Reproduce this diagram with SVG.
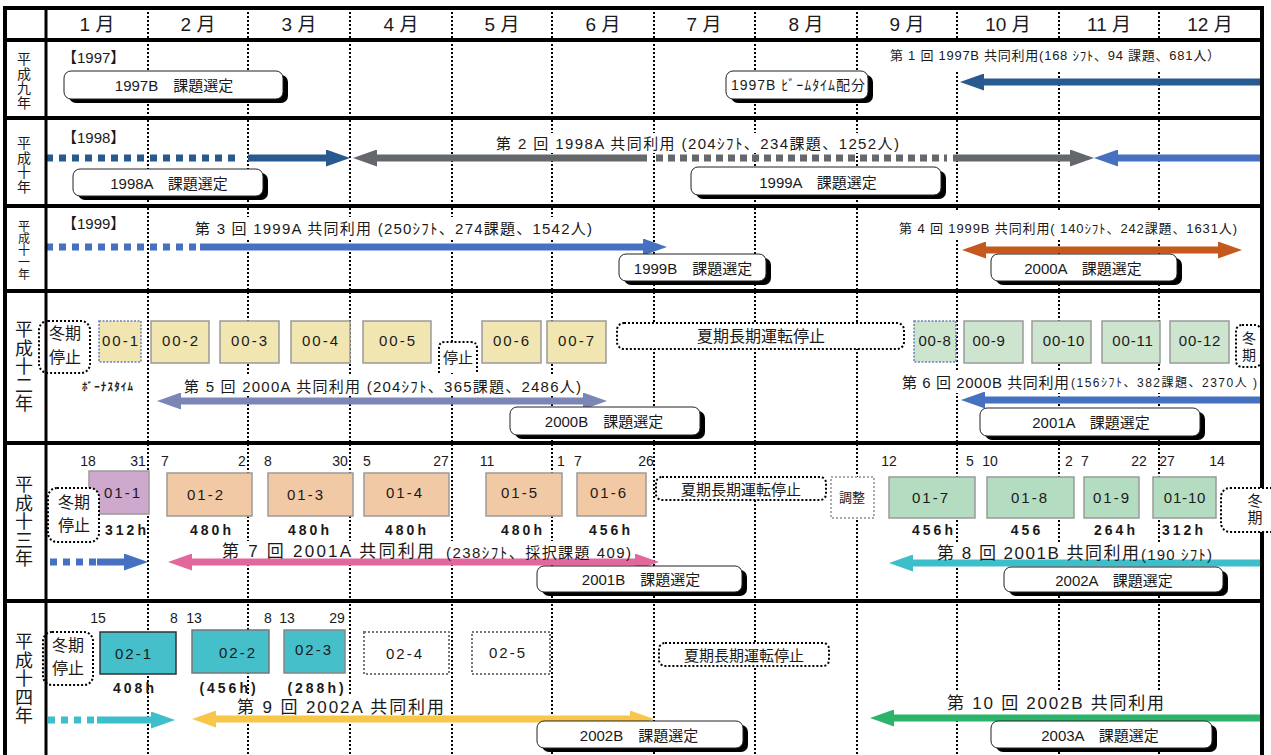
<svg xmlns="http://www.w3.org/2000/svg" width="1271" height="755" viewBox="0 0 1271 755">
<style>
text{font-family:"Liberation Sans","Noto Sans CJK JP",sans-serif;fill:#1a1a1a;dominant-baseline:central}
.mo{font-size:19px;text-anchor:middle}
.rl{text-anchor:middle}
.grid{fill:none;stroke:#000;stroke-width:2;stroke-dasharray:2 2}
.thick{fill:none;stroke:#000;stroke-width:4}
.shd{fill:#000}
.bx{fill:#fff;stroke:#222;stroke-width:1}
.bt{font-size:15px;text-anchor:middle}
.dz{fill:#fff;stroke:#000;stroke-width:2;stroke-dasharray:2 2}
.dg{fill:#fff;stroke:#777;stroke-width:2;stroke-dasharray:2 2}
.bg{fill:#fff}
.lb{font-size:15px}
.sm{font-size:13px}
.big{font-size:17px}
.dy{font-size:14px;text-anchor:middle}
.hr{font-size:14px;font-weight:bold;text-anchor:middle;letter-spacing:3px}
.cb{stroke:#9a9a9a;stroke-width:1.5}
.cdot{stroke:#6f7fb3;stroke-width:1.5;stroke-dasharray:2 1.5}
.cl{font-size:15px;text-anchor:middle;letter-spacing:2px}
.cl5{font-size:15px;text-anchor:middle;letter-spacing:0.8px}
.y0{fill:#F1E6B2}
.g0{fill:#CDE5CF}
.p1{fill:#CFA8CD}
.o1{fill:#F2C9A5}
.g1{fill:#B3DCC1}
.t2{fill:#45BFCA}
.ar{fill:none;stroke-width:7}
.ds{stroke-dasharray:7 6}
.wt{font-size:16px;text-anchor:middle}
</style>
<defs>
<marker id="mDB" markerUnits="userSpaceOnUse" markerWidth="24" markerHeight="17" viewBox="0 0 24 17" refX="2" refY="8.5" orient="auto-start-reverse"><path d="M0,0 L24,8.5 L0,17 z" fill="#285A8F"/></marker>
<marker id="mGY" markerUnits="userSpaceOnUse" markerWidth="24" markerHeight="17" viewBox="0 0 24 17" refX="2" refY="8.5" orient="auto-start-reverse"><path d="M0,0 L24,8.5 L0,17 z" fill="#64676B"/></marker>
<marker id="mBL" markerUnits="userSpaceOnUse" markerWidth="24" markerHeight="17" viewBox="0 0 24 17" refX="2" refY="8.5" orient="auto-start-reverse"><path d="M0,0 L24,8.5 L0,17 z" fill="#4571C0"/></marker>
<marker id="mOR" markerUnits="userSpaceOnUse" markerWidth="24" markerHeight="17" viewBox="0 0 24 17" refX="2" refY="8.5" orient="auto-start-reverse"><path d="M0,0 L24,8.5 L0,17 z" fill="#C4581E"/></marker>
<marker id="mSL" markerUnits="userSpaceOnUse" markerWidth="24" markerHeight="17" viewBox="0 0 24 17" refX="2" refY="8.5" orient="auto-start-reverse"><path d="M0,0 L24,8.5 L0,17 z" fill="#7B85B6"/></marker>
<marker id="mPK" markerUnits="userSpaceOnUse" markerWidth="24" markerHeight="17" viewBox="0 0 24 17" refX="2" refY="8.5" orient="auto-start-reverse"><path d="M0,0 L24,8.5 L0,17 z" fill="#E3679C"/></marker>
<marker id="mCY" markerUnits="userSpaceOnUse" markerWidth="24" markerHeight="17" viewBox="0 0 24 17" refX="2" refY="8.5" orient="auto-start-reverse"><path d="M0,0 L24,8.5 L0,17 z" fill="#3CBFCB"/></marker>
<marker id="mYE" markerUnits="userSpaceOnUse" markerWidth="24" markerHeight="17" viewBox="0 0 24 17" refX="2" refY="8.5" orient="auto-start-reverse"><path d="M0,0 L24,8.5 L0,17 z" fill="#F8C648"/></marker>
<marker id="mGR" markerUnits="userSpaceOnUse" markerWidth="24" markerHeight="17" viewBox="0 0 24 17" refX="2" refY="8.5" orient="auto-start-reverse"><path d="M0,0 L24,8.5 L0,17 z" fill="#2DB46B"/></marker>
</defs>
<rect x="0" y="0" width="1271" height="755" fill="#fff"/>

<g id="grid">
<path class="grid" d="M148 8V755M248 8V755M350 8V755M452 8V755M552 8V755M654 8V755M755 8V755M857 8V755M957 8V755M1059 8V755M1159 8V755"/>
</g>

<g id="header">
<text class="mo" x="97" y="24">1 月</text>
<text class="mo" x="198" y="24">2 月</text>
<text class="mo" x="299" y="24">3 月</text>
<text class="mo" x="401" y="24">4 月</text>
<text class="mo" x="502" y="24">5 月</text>
<text class="mo" x="603" y="24">6 月</text>
<text class="mo" x="704" y="24">7 月</text>
<text class="mo" x="806" y="24">8 月</text>
<text class="mo" x="907" y="24">9 月</text>
<text class="mo" x="1008" y="24">10 月</text>
<text class="mo" x="1109" y="24">11 月</text>
<text class="mo" x="1210" y="24">12 月</text>
</g>

<g id="row-labels">
<text class="rl" style="font-size:14px"><tspan x="24" y="59">平</tspan><tspan x="24" y="73.5">成</tspan><tspan x="24" y="88">九</tspan><tspan x="24" y="102.5">年</tspan></text>
<text class="rl" style="font-size:14px"><tspan x="24" y="143">平</tspan><tspan x="24" y="157.5">成</tspan><tspan x="24" y="172">十</tspan><tspan x="24" y="186.5">年</tspan></text>
<text class="rl" style="font-size:12px"><tspan x="24" y="227">平</tspan><tspan x="24" y="239">成</tspan><tspan x="24" y="251">十</tspan><tspan x="24" y="263">一</tspan><tspan x="24" y="275">年</tspan></text>
<text class="rl" style="font-size:18px"><tspan x="24" y="330">平</tspan><tspan x="24" y="348.5">成</tspan><tspan x="24" y="367">十</tspan><tspan x="24" y="385.5">二</tspan><tspan x="24" y="404">年</tspan></text>
<text class="rl" style="font-size:18px"><tspan x="24" y="485">平</tspan><tspan x="24" y="503.5">成</tspan><tspan x="24" y="522">十</tspan><tspan x="24" y="540.5">三</tspan><tspan x="24" y="559">年</tspan></text>
<text class="rl" style="font-size:18px"><tspan x="24" y="642">平</tspan><tspan x="24" y="660.5">成</tspan><tspan x="24" y="679">十</tspan><tspan x="24" y="697.5">四</tspan><tspan x="24" y="716">年</tspan></text>
</g>

<g id="label-backgrounds">
<rect class="bg" x="886" y="42" width="340" height="30"/>
<rect class="bg" x="490" y="133" width="414" height="20"/>
<rect class="bg" x="190" y="217" width="408" height="21"/>
<rect class="bg" x="894" y="210" width="348" height="30"/>
<rect class="bg" x="180" y="376" width="406" height="20"/>
<rect class="bg" x="897" y="371" width="362" height="22"/>
<rect class="bg" x="218" y="541" width="418" height="21"/>
<rect class="bg" x="933" y="542" width="283" height="21"/>
<rect class="bg" x="232" y="696" width="216" height="22"/>
<rect class="bg" x="943" y="691" width="225" height="24"/>
</g>

<g id="connectors">
<line class="ar" x1="1260" y1="82" x2="982" y2="82" stroke="#285A8F" marker-end="url(#mDB)"/>
<line class="ar ds" x1="46" y1="158" x2="241" y2="158" stroke="#285A8F"/>
<line class="ar" x1="248" y1="158" x2="328" y2="158" stroke="#285A8F" marker-end="url(#mDB)"/>
<line class="ar" x1="647" y1="158" x2="375" y2="158" stroke="#64676B" marker-end="url(#mGY)"/>
<line class="ar" x1="656" y1="158" x2="947" y2="158" stroke="#64676B" style="stroke-dasharray:7 5"/>
<line class="ar" x1="953" y1="158" x2="1072" y2="158" stroke="#64676B" marker-end="url(#mGY)"/>
<line class="ar" x1="1260" y1="158" x2="1116" y2="158" stroke="#4571C0" marker-end="url(#mBL)"/>
<line class="ar ds" x1="46" y1="247" x2="198" y2="247" stroke="#4571C0"/>
<line class="ar" x1="200" y1="247" x2="645" y2="247" stroke="#4571C0" marker-end="url(#mBL)"/>
<line class="ar" x1="984" y1="250" x2="1220" y2="250" stroke="#C4581E" marker-start="url(#mOR)" marker-end="url(#mOR)"/>
<line class="ar" x1="179" y1="401" x2="585" y2="401" stroke="#7B85B6" marker-start="url(#mSL)" marker-end="url(#mSL)"/>
<line class="ar" x1="1260" y1="400" x2="983" y2="400" stroke="#4571C0" marker-end="url(#mBL)"/>
<line class="ar ds" x1="50" y1="562" x2="97" y2="562" stroke="#4571C0"/>
<line class="ar" x1="97" y1="562" x2="126" y2="562" stroke="#4571C0" marker-end="url(#mBL)"/>
<line class="ar" x1="190" y1="562" x2="637" y2="562" stroke="#E3679C" marker-start="url(#mPK)" marker-end="url(#mPK)"/>
<line class="ar" x1="1260" y1="563" x2="911" y2="563" stroke="#3CBFCB" marker-end="url(#mCY)"/>
<line class="ar ds" x1="48" y1="720" x2="97" y2="720" stroke="#3CBFCB"/>
<line class="ar" x1="97" y1="720" x2="153" y2="720" stroke="#3CBFCB" marker-end="url(#mCY)"/>
<line class="ar" x1="214" y1="719" x2="632" y2="719" stroke="#F8C648" marker-start="url(#mYE)" marker-end="url(#mYE)"/>
<line class="ar" x1="1260" y1="718" x2="892" y2="718" stroke="#2DB46B" marker-end="url(#mGR)"/>
</g>

<g id="labels">
<text class="lb" x="62" y="57">【1997】</text>
<text class="lb" x="62" y="137">【1998】</text>
<text class="lb" x="62" y="223">【1999】</text>
<text class="sm" x="890" y="55" textLength="330" lengthAdjust="spacing">第 1 回 1997B 共同利用(168 ｼﾌﾄ、94 課題、681人）</text>
<text class="lb" x="496" y="143" textLength="403" lengthAdjust="spacing">第 2 回 1998A 共同利用 (204ｼﾌﾄ、234課題、1252人)</text>
<text class="lb" x="195" y="228" textLength="397" lengthAdjust="spacing">第 3 回 1999A 共同利用 (250ｼﾌﾄ、274課題、1542人)</text>
<text class="sm" x="899" y="228" textLength="338" lengthAdjust="spacing">第 4 回 1999B 共同利用( 140ｼﾌﾄ、242課題、1631人)</text>
<text x="82" y="387" style="font-size:11px;font-weight:bold" textLength="51" lengthAdjust="spacing">ﾎﾞｰﾅｽﾀｲﾑ</text>
<text class="lb" x="184" y="386" textLength="397" lengthAdjust="spacing">第 5 回 2000A 共同利用 (204ｼﾌﾄ、365課題、2486人)</text>
<text class="lb" x="902" y="382" textLength="167" lengthAdjust="spacing">第 6 回 2000B 共同利用</text>
<text x="1071" y="383" style="font-size:12px" textLength="186" lengthAdjust="spacing">(156ｼﾌﾄ、382課題、2370人 )</text>
<text class="big" x="222" y="551" textLength="212" lengthAdjust="spacing">第 7 回 2001A 共同利用</text>
<text class="lb" x="446" y="552" textLength="185" lengthAdjust="spacing">(238ｼﾌﾄ、採択課題 409)</text>
<text class="big" x="937" y="553" textLength="202" lengthAdjust="spacing">第 8 回 2001B 共同利用</text>
<text class="lb" x="1141" y="554" textLength="71" lengthAdjust="spacing">(190 ｼﾌﾄ)</text>
<text class="big" x="237" y="707" textLength="207" lengthAdjust="spacing">第 9 回 2002A 共同利用</text>
<text class="big" x="947" y="703" textLength="217" lengthAdjust="spacing">第 10 回 2002B 共同利用</text>
</g>

<g id="day-numbers">
<text class="dy" x="88" y="461">18</text><text class="dy" x="138" y="461">31</text>
<text class="dy" x="165" y="461">7</text><text class="dy" x="242" y="461">2</text>
<text class="dy" x="268" y="461">8</text><text class="dy" x="340" y="461">30</text>
<text class="dy" x="367" y="461">5</text><text class="dy" x="441" y="461">27</text>
<text class="dy" x="487" y="461">11</text><text class="dy" x="561" y="461">1</text>
<text class="dy" x="578" y="461">7</text><text class="dy" x="646" y="461">26</text>
<text class="dy" x="889" y="461">12</text><text class="dy" x="970" y="461">5</text>
<text class="dy" x="990" y="461">10</text><text class="dy" x="1069" y="461">2</text>
<text class="dy" x="1085" y="461">7</text><text class="dy" x="1139" y="461">22</text>
<text class="dy" x="1167" y="461">27</text><text class="dy" x="1217" y="461">14</text>
<text class="dy" x="98" y="618">15</text><text class="dy" x="174" y="618">8</text>
<text class="dy" x="194" y="618">13</text><text class="dy" x="268" y="618">8</text>
<text class="dy" x="287" y="618">13</text><text class="dy" x="337" y="618">29</text>
</g>

<g id="hours">
<text class="hr" x="127" y="530">312h</text>
<text class="hr" x="212" y="530">480h</text>
<text class="hr" x="310" y="530">480h</text>
<text class="hr" x="407" y="530">480h</text>
<text class="hr" x="523" y="530">480h</text>
<text class="hr" x="611" y="530">456h</text>
<text class="hr" x="934" y="530">456h</text>
<text class="hr" x="1027" y="530">456</text>
<text class="hr" x="1116" y="530">264h</text>
<text class="hr" x="1184" y="530">312h</text>
<text class="hr" x="135" y="688">408h</text>
<text class="hr" x="229" y="688">(456h)</text>
<text class="hr" x="317" y="688">(288h)</text>
</g>

<g id="sel-1997B"><rect class="shd" x="69" y="75" width="219" height="28" rx="7"/><rect class="bx" x="64" y="71" width="219" height="28" rx="7"/><text class="bt" x="174" y="85">1997B　課題選定</text></g>
<g id="beam-1997B"><rect class="shd" x="731" y="75" width="142" height="28" rx="7"/><rect class="bx" x="726" y="71" width="142" height="28" rx="7"/><text x="731" y="85" style="font-size:14px" textLength="134" lengthAdjust="spacing">1997B ﾋﾞｰﾑﾀｲﾑ配分</text></g>
<g id="sel-1998A"><rect class="shd" x="78" y="173" width="190" height="27" rx="7"/><rect class="bx" x="73" y="169" width="190" height="27" rx="7"/><text class="bt" x="169" y="183">1998A　課題選定</text></g>
<g id="sel-1999A"><rect class="shd" x="696" y="171" width="250" height="28" rx="7"/><rect class="bx" x="691" y="167" width="250" height="28" rx="7"/><text class="bt" x="818" y="182">1999A　課題選定</text></g>
<g id="sel-1999B"><rect class="shd" x="624" y="258" width="147" height="27" rx="7"/><rect class="bx" x="619" y="254" width="147" height="27" rx="7"/><text class="bt" x="693" y="268">1999B　課題選定</text></g>
<g id="sel-2000A"><rect class="shd" x="996" y="258" width="186" height="27" rx="7"/><rect class="bx" x="991" y="254" width="186" height="27" rx="7"/><text class="bt" x="1083" y="268">2000A　課題選定</text></g>
<g id="sel-2000B"><rect class="shd" x="515" y="411" width="190" height="28" rx="7"/><rect class="bx" x="510" y="407" width="190" height="28" rx="7"/><text class="bt" x="604" y="421">2000B　課題選定</text></g>
<g id="sel-2001A"><rect class="shd" x="985" y="412" width="220" height="28" rx="7"/><rect class="bx" x="980" y="408" width="220" height="28" rx="7"/><text class="bt" x="1091" y="422">2001A　課題選定</text></g>
<g id="sel-2001B"><rect class="shd" x="542" y="570" width="205" height="26" rx="7"/><rect class="bx" x="537" y="566" width="205" height="26" rx="7"/><text class="bt" x="641" y="579">2001B　課題選定</text></g>
<g id="sel-2002A"><rect class="shd" x="1009" y="571" width="219" height="25" rx="7"/><rect class="bx" x="1004" y="567" width="219" height="25" rx="7"/><text class="bt" x="1114" y="580">2002A　課題選定</text></g>
<g id="sel-2002B"><rect class="shd" x="542" y="725" width="206" height="27" rx="7"/><rect class="bx" x="537" y="721" width="206" height="27" rx="7"/><text class="bt" x="639" y="735">2002B　課題選定</text></g>
<g id="sel-2003A"><rect class="shd" x="996" y="725" width="221" height="27" rx="7"/><rect class="bx" x="991" y="721" width="221" height="27" rx="7"/><text class="bt" x="1100" y="735">2003A　課題選定</text></g>

<g id="stop-2000-winter"><rect class="dz" x="39" y="321" width="51" height="52" rx="9"/><text class="wt" x="65" y="333">冬期</text><text class="wt" x="65" y="357">停止</text></g>
<g id="b00-1"><rect class="y0 cdot" x="99" y="321" width="42" height="41"/><text class="cl" x="121" y="340">00-1</text></g>
<g id="b00-2"><rect class="y0 cb" x="151" y="321" width="58" height="42"/><text class="cl" x="181" y="340">00-2</text></g>
<g id="b00-3"><rect class="y0 cb" x="220" y="321" width="59" height="42"/><text class="cl" x="250" y="340">00-3</text></g>
<g id="b00-4"><rect class="y0 cb" x="291" y="321" width="59" height="42"/><text class="cl" x="321" y="340">00-4</text></g>
<g id="b00-5"><rect class="y0 cb" x="363" y="321" width="68" height="42"/><text class="cl" x="398" y="340">00-5</text></g>
<g id="stop-2000-may"><path class="dz" d="M439 373V348Q439 342 445 342H471Q477 342 477 348V373"/><text class="lb" x="458" y="357" style="text-anchor:middle">停止</text></g>
<g id="b00-6"><rect class="y0 cb" x="482" y="321" width="59" height="42"/><text class="cl" x="512" y="340">00-6</text></g>
<g id="b00-7"><rect class="y0 cb" x="547" y="321" width="59" height="42"/><text class="cl" x="577" y="340">00-7</text></g>
<g id="summer-2000"><rect class="dz" x="617" y="323" width="287" height="26" rx="7"/><text class="wt" x="761" y="336">夏期長期運転停止</text></g>
<g id="b00-8"><rect class="g0 cdot" x="914" y="321" width="42" height="41"/><text class="cl5" x="935" y="340">00-8</text></g>
<g id="b00-9"><rect class="g0 cb" x="964" y="321" width="59" height="42"/><text class="cl5" x="989" y="340">00-9</text></g>
<g id="b00-10"><rect class="g0 cb" x="1032" y="321" width="59" height="42"/><text class="cl5" x="1064" y="340">00-10</text></g>
<g id="b00-11"><rect class="g0 cb" x="1102" y="321" width="58" height="42"/><text class="cl5" x="1133" y="340">00-11</text></g>
<g id="b00-12"><rect class="g0 cb" x="1170" y="321" width="59" height="42"/><text class="cl5" x="1200" y="340">00-12</text></g>
<g id="winter-2000-end"><rect class="dz" x="1236" y="325" width="25" height="42" rx="6"/><text class="rl" style="font-size:14px" x="1249" y="338">冬</text><text class="rl" style="font-size:14px" x="1249" y="355">期</text></g>

<g id="b01-1"><rect class="p1 cb" x="89" y="471" width="60" height="43"/><text class="cl" x="123" y="492">01-1</text></g>
<g id="stop-2001-winter"><rect class="dz" x="48" y="488" width="51" height="54" rx="9"/><text class="wt" x="74" y="502">冬期</text><text class="wt" x="74" y="525">停止</text></g>
<g id="b01-2"><rect class="o1 cb" x="167" y="473" width="85" height="43"/><text class="cl" x="206" y="494">01-2</text></g>
<g id="b01-3"><rect class="o1 cb" x="268" y="473" width="85" height="43"/><text class="cl" x="306" y="494">01-3</text></g>
<g id="b01-4"><rect class="o1 cb" x="364" y="473" width="85" height="43"/><text class="cl" x="405" y="492">01-4</text></g>
<g id="b01-5"><rect class="o1 cb" x="486" y="473" width="76" height="43"/><text class="cl" x="520" y="492">01-5</text></g>
<g id="b01-6"><rect class="o1 cb" x="577" y="473" width="69" height="43"/><text class="cl" x="609" y="492">01-6</text></g>
<g id="summer-2001"><rect class="dz" x="656" y="477" width="170" height="23" rx="6"/><text class="bt" x="741" y="489">夏期長期運転停止</text></g>
<g id="adjust-2001"><rect class="dg" x="831" y="477" width="43" height="41" style="stroke:#aaa"/><text x="852" y="497" style="font-size:13px;text-anchor:middle">調整</text></g>
<g id="b01-7"><rect class="g1 cb" x="889" y="477" width="86" height="41"/><text class="cl" x="931" y="497">01-7</text></g>
<g id="b01-8"><rect class="g1 cb" x="987" y="477" width="87" height="41"/><text class="cl" x="1030" y="497">01-8</text></g>
<g id="b01-9"><rect class="g1 cb" x="1084" y="477" width="55" height="41"/><text class="cl" x="1112" y="497">01-9</text></g>
<g id="b01-10"><rect class="g1 cb" x="1153" y="477" width="63" height="41"/><text class="cl5" x="1185" y="497">01-10</text></g>

<g id="stop-2002-winter"><rect class="dz" x="43" y="632" width="50" height="53" rx="9"/><text class="wt" x="68" y="645">冬期</text><text class="wt" x="68" y="668">停止</text></g>
<g id="b02-1"><rect class="t2" x="100" y="632" width="76" height="42" stroke="#333" stroke-width="1.5"/><text class="cl" x="134" y="653">02-1</text></g>
<g id="b02-2"><rect class="t2" x="192" y="630" width="77" height="43" stroke="#777" stroke-width="1.5"/><text class="cl" x="238" y="652">02-2</text></g>
<g id="b02-3"><rect class="t2" x="284" y="630" width="61" height="43" stroke="#888" stroke-width="1.5"/><text class="cl" x="314" y="649">02-3</text></g>
<g id="b02-4"><rect class="dg" x="364" y="632" width="85" height="42"/><text class="cl" x="405" y="653">02-4</text></g>
<g id="b02-5"><rect class="dg" x="472" y="632" width="78" height="42"/><text class="cl" x="508" y="652">02-5</text></g>
<g id="summer-2002"><rect class="dz" x="659" y="643" width="170" height="23" rx="6"/><text class="bt" x="744" y="655">夏期長期運転停止</text></g>

<g id="frame">
<path class="thick" d="M3 8H1264M3 40H1264M3 118H1264M3 206H1264M3 291H1264M3 443H1264M3 601H1264"/>
<path class="thick" d="M5 6V755M1262 6V755"/>
<path d="M46 8V755" stroke="#000" stroke-width="3"/>
</g>

<g id="winter-2001-end"><rect class="dz" x="1221" y="488" width="60" height="44" rx="9"/><text class="rl" style="font-size:15px" x="1255" y="500">冬</text><text class="rl" style="font-size:15px" x="1255" y="517">期</text></g>
</svg>
